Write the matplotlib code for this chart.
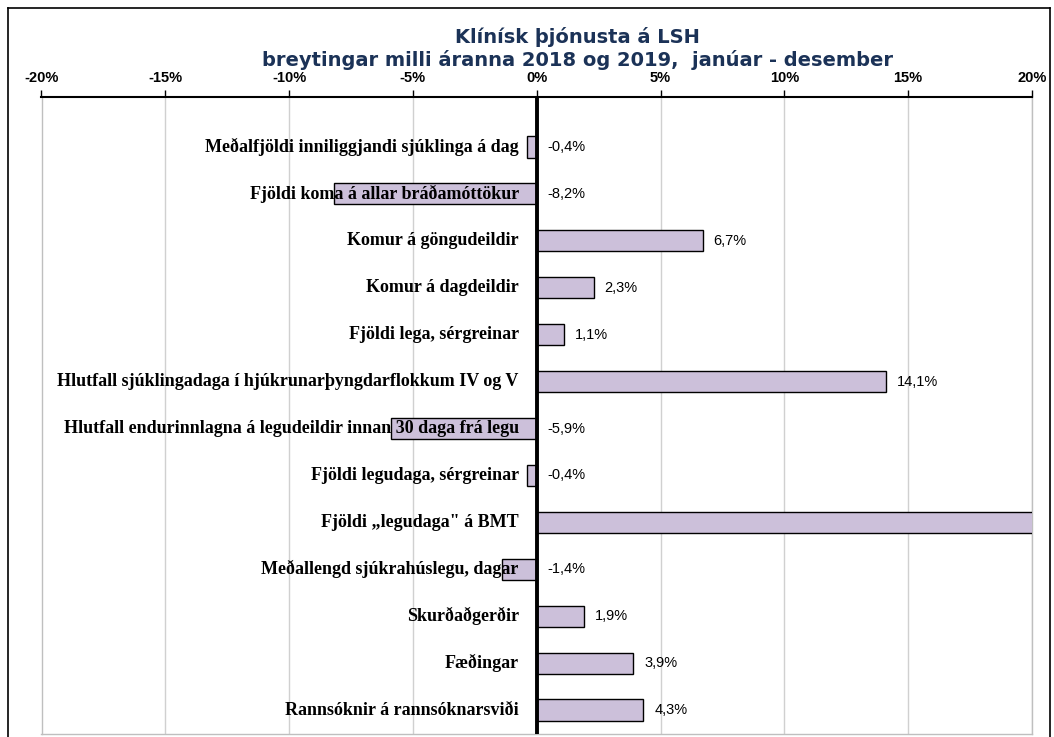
import matplotlib
matplotlib.use("Agg")
import matplotlib.pyplot as plt
from matplotlib.ticker import FuncFormatter
from matplotlib.lines import Line2D

categories = [
    "Meðalfjöldi inniliggjandi sjúklinga á dag",
    "Fjöldi koma á allar bráðamóttökur",
    "Komur á göngudeildir",
    "Komur á dagdeildir",
    "Fjöldi lega, sérgreinar",
    "Hlutfall sjúklingadaga í hjúkrunarþyngdarflokkum IV og V",
    "Hlutfall endurinnlagna á legudeildir innan 30 daga frá legu",
    "Fjöldi legudaga, sérgreinar",
    "Fjöldi \u201elegudaga\" á BMT",
    "Meðallengd sjúkrahúslegu, dagar",
    "Skurðaðgerðir",
    "Fæðingar",
    "Rannsóknir á rannsóknarsviði",
]
values = [-0.4, -8.2, 6.7, 2.3, 1.1, 14.1, -5.9, -0.4, 25.0, -1.4, 1.9, 3.9, 4.3]
xticks = [-20, -15, -10, -5, 0, 5, 10, 15, 20]

title_line1 = "Klínísk þjónusta á LSH"
title_line2 = "breytingar milli áranna 2018 og 2019,  janúar - desember"

W, H = 1054, 737
PX = 72 / 100  # points per pixel at 100 dpi
fig = plt.figure(figsize=(W / 100, H / 100), dpi=100)
ax = fig.add_axes([41.5 / W, 1 - 733.5 / H, (1032 - 41.5) / W, (733.5 - 97) / H])

ypos = list(range(len(categories)))
ax.barh(ypos, values, height=0.45, color="#CCC0DA", edgecolor="black",
        linewidth=1.0, zorder=3)

ax.set_xlim(-20, 20)
ax.set_ylim(12.5, -1.066)
ax.set_xticks(xticks)
ax.xaxis.set_major_formatter(FuncFormatter(lambda v, p: f"{v:.0f}%"))
ax.xaxis.tick_top()
ax.tick_params(axis="x", direction="out", length=5, width=1, color="black",
               pad=4, labelsize=10.5)
for lab in ax.get_xticklabels():
    lab.set_fontweight("bold")
    lab.set_fontfamily("Liberation Sans")
ax.set_yticks([])
ax.grid(axis="x", color="#D0D0D0", linewidth=1.0, zorder=0)

for side in ["left", "right", "bottom"]:
    ax.spines[side].set_color("#BFBFBF")
    ax.spines[side].set_linewidth(1.0)
ax.spines["top"].set_color("black")
ax.spines["top"].set_linewidth(1.5)

ax.axvline(0, color="black", linewidth=2.8, zorder=5)

for y, cat, v in zip(ypos, categories, values):
    ax.annotate(cat, xy=(0, y), xytext=(-18 * PX, 0), textcoords="offset points",
                ha="right", va="center", fontsize=13, fontweight="bold",
                fontfamily="Liberation Serif", color="black", zorder=6)
    lab = f"{v:.1f}%".replace(".", ",")
    ax.annotate(lab, xy=(max(v, 0), y), xytext=(11 * PX, 0), textcoords="offset points",
                ha="left", va="center", fontsize=10.5, fontfamily="Liberation Sans",
                color="black", zorder=6, annotation_clip=True)

fig.text(577 / W, 1 - 66 / H, title_line1 + "\n" + title_line2, ha="center",
         va="baseline", multialignment="center", linespacing=1.2,
         fontsize=14, fontweight="bold", fontfamily="DejaVu Sans", color="#1B3257")

# outer chart frame
fx0, fx1, fy0 = 7.5 / W, 1050 / W, 1 - 8 / H
fig.add_artist(Line2D([fx0, fx0], [0, fy0], color="black", linewidth=1.2))
fig.add_artist(Line2D([fx0, fx1], [fy0, fy0], color="black", linewidth=1.2))
fig.add_artist(Line2D([fx1, fx1], [0, fy0], color="black", linewidth=1.2))

fig.savefig("out.png", dpi=100)
